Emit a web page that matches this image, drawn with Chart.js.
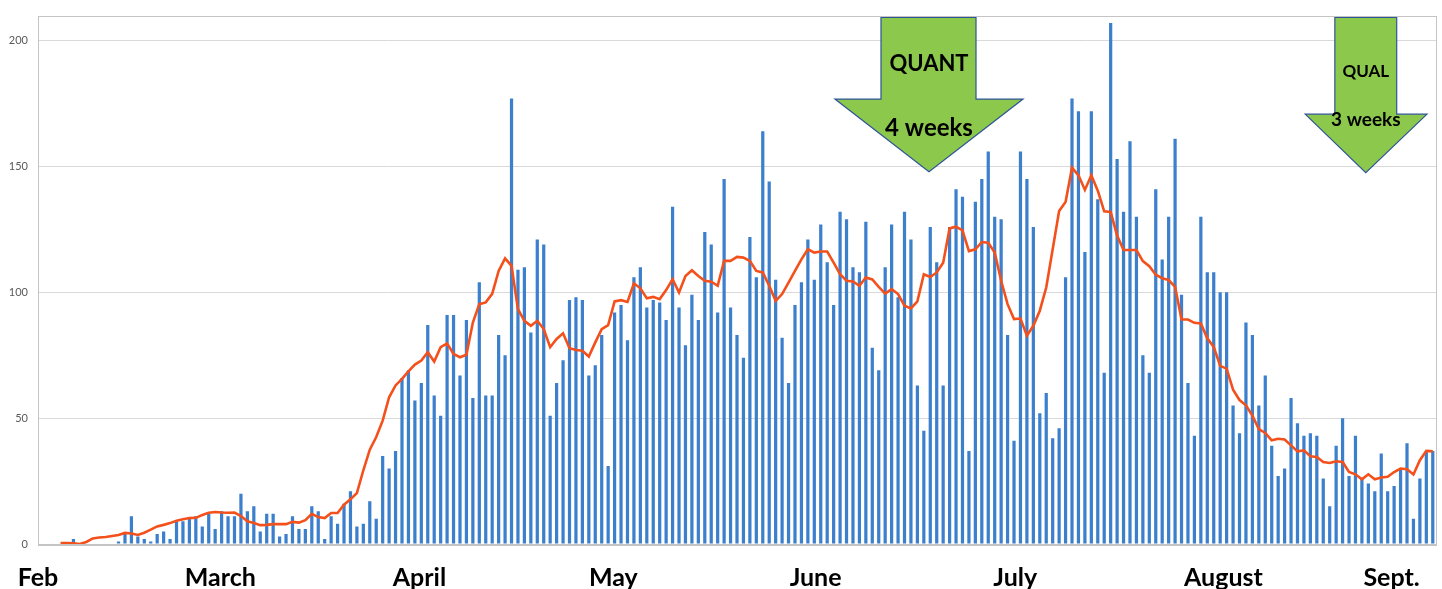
<!DOCTYPE html>
<html>
<head>
<meta charset="utf-8">
<script src="https://cdn.jsdelivr.net/npm/chart.js@4.4.1/dist/chart.umd.min.js"></script>
<style>
  html, body { margin: 0; padding: 0; background: #fff; }
  #wrap { width: 1442px; height: 589px; }
</style>
</head>
<body>
<div id="wrap"><canvas id="chart" width="1442" height="589"></canvas></div>
<script>
// daily counts, one per day from Feb 1 (index 0) to Sept 4 (index 216)
var dailyCounts = [
  null, null, null, null, null, 2, 0, 0, 0, 0,
  0, 0, 1, 4, 11, 3, 2, 1, 4, 5,
  2, 9, 9, 10, 11, 7, 12, 6, 13, 11,
  11, 20, 13, 15, 5, 12, 12, 3, 4, 11,
  6, 6, 15, 13, 2, 11, 8, 16, 21, 7,
  8, 17, 10, 35, 30, 37, 66, 69, 57, 64,
  87, 59, 51, 91, 91, 67, 89, 58, 104, 59,
  59, 83, 75, 177, 109, 110, 84, 121, 119, 51,
  64, 73, 97, 98, 97, 67, 71, 83, 31, 92,
  95, 81, 106, 110, 94, 97, 96, 89, 134, 94,
  79, 99, 89, 124, 119, 92, 145, 94, 83, 74,
  122, 106, 164, 144, 105, 82, 64, 95, 104, 121,
  105, 127, 112, 95, 132, 129, 110, 108, 128, 78,
  69, 110, 127, 98, 132, 121, 63, 45, 126, 112,
  63, 126, 141, 138, 37, 136, 145, 156, 130, 129,
  83, 41, 156, 145, 126, 52, 60, 42, 46, 106,
  177, 172, 116, 172, 137, 68, 207, 153, 132, 160,
  130, 75, 68, 141, 113, 130, 161, 99, 64, 43,
  130, 108, 108, 100, 100, 55, 44, 88, 83, 55,
  67, 39, 27, 30, 58, 48, 43, 44, 43, 26,
  15, 39, 50, 27, 43, 26, 24, 21, 36, 21,
  23, 30, 40, 10, 26, 37, 37
];

// the smoothed (moving average) line
var movingAvg = [
  null, null, null, 0.4, 0.4, 0.3, 0, 0.8, 2.2, 2.6,
  2.8, 3.2, 3.6, 4.4, 4.2, 3.6, 4.5, 5.7, 7, 7.6,
  8.3, 9.2, 9.8, 10.3, 10.4, 11.5, 12.4, 12.7, 12.5, 12.4,
  12.5, 11.1, 9, 8.3, 7.5, 7.6, 7.9, 7.9, 7.9, 8.8,
  8.5, 9.5, 12, 10.7, 10.3, 12.3, 12.3, 15.6, 17.8, 20.2,
  29.3, 37.5, 42.5, 49, 58.3, 63, 65.6, 68.6, 71.3, 72.9,
  76.2, 72.5, 78.2, 79.7, 75.5, 74.2, 75.2, 88, 95.3, 96,
  99.4, 108.5, 113.5, 110.5, 93.3, 88.7, 86.7, 88.7, 85.4, 78.2,
  81.5, 83.7, 77.8, 77.1, 76.8, 74.5, 80.1, 85.4, 87, 96.4,
  96.9, 96.2, 103.6, 101.6, 97.6, 98.2, 97.3, 100.9, 105.2, 99.9,
  106.5, 108.8, 106.5, 104.6, 104.2, 102.6, 112.5, 112.5, 114.1, 113.8,
  112.5, 108.5, 107.9, 102.6, 96.6, 99.3, 103.9, 108.5, 113.1, 117.1,
  115.8, 116.2, 116.2, 111.8, 107.2, 104.6, 104.3, 102.6, 105.9, 105.1,
  102.2, 99.5, 101.3, 99.3, 94.7, 93.6, 96.4, 107.2, 106.1, 107.9,
  111.8, 125.4, 126.1, 124.6, 116.4, 117.1, 120, 119.7, 115.8, 104.6,
  95.3, 89.4, 89.6, 82.8, 86.7, 92.7, 101.9, 117.1, 132.3, 135.9,
  149.5, 146.5, 140.7, 146.5, 140.4, 132.2, 131.9, 122.6, 116.8, 116.8,
  116.8, 112.4, 110.4, 107, 105.6, 104.9, 102.2, 89.2, 89.2, 87.9,
  87.6, 81.7, 78.3, 70.8, 69.7, 61.3, 57.2, 55.1, 51, 45.7,
  44.1, 41.2, 41.8, 41.5, 39.2, 36.8, 37.2, 34.9, 34.6, 32.6,
  32.2, 32.9, 32.6, 28.6, 27.7, 25.7, 27.7, 25.7, 26.4, 26.7,
  28.6, 30, 29.7, 27.6, 33.3, 37, 36.8
];

var monthNames = ["Feb", "March", "April", "May", "June", "July", "August", "Sept."];
var monthLabelDay = [-0.5, 27.8, 58.7, 88.8, 120.2, 151.2, 183.5, 209.6];
var yTickValues = [0, 50, 100, 150, 200];

// call-out arrows; x in day index, y in chart units
var calloutArrows = [
  { shaft: [130.35, 145.1], head: [123.2, 152.4], tip: 137.8, top: 209.2, neck: 176.8, point: 147.9,
    text: ["QUANT", "4 weeks"], textY: [190.6, 165.3], sizes: [22, 24] },
  { shaft: [200.8, 210.4], head: [196.2, 215.1], tip: 205.6, top: 209.2, neck: 170.8, point: 147.5,
    text: ["QUAL", "3 weeks"], textY: [187.8, 168.5], sizes: [17, 19] }
];

var dayLabels = [];
var start = new Date(2020, 1, 1);
for (var i = 0; i < dailyCounts.length; i++) {
  var d = new Date(start.getTime());
  d.setDate(start.getDate() + i);
  dayLabels.push((d.getMonth() + 1) + "/" + d.getDate());
}

var boxPlugin = {
  id: "plotBox",
  beforeDatasetsDraw: function (chart) {
    var a = chart.chartArea, ctx = chart.ctx;
    ctx.save();
    ctx.strokeStyle = "#c4c4c4";
    ctx.lineWidth = 1;
    ctx.strokeRect(Math.round(a.left) + 0.5, Math.round(a.top) + 0.5,
      Math.round(a.right - a.left), Math.round(a.bottom - a.top));
    ctx.restore();
  }
};

// month names under the axis, centred on a day position
var monthPlugin = {
  id: "months",
  afterDraw: function (chart) {
    var xs = chart.scales.x, ctx = chart.ctx;
    ctx.save();
    ctx.fillStyle = "#000";
    ctx.font = "bold 25px Lato, 'Open Sans', sans-serif";
    ctx.textAlign = "center";
    ctx.textBaseline = "middle";
    monthNames.forEach(function (m, j) {
      ctx.fillText(m, xs.getPixelForValue(monthLabelDay[j]), chart.chartArea.bottom + 34);
    });
    ctx.restore();
  }
};

var arrowPlugin = {
  id: "callouts",
  afterDatasetsDraw: function (chart) {
    var xs = chart.scales.x, ys = chart.scales.y, ctx = chart.ctx;
    calloutArrows.forEach(function (a) {
      var px = function (v) { return xs.getPixelForValue(v); };
      var py = function (v) { return ys.getPixelForValue(v); };
      ctx.save();
      ctx.beginPath();
      ctx.moveTo(px(a.shaft[0]), py(a.top));
      ctx.lineTo(px(a.shaft[1]), py(a.top));
      ctx.lineTo(px(a.shaft[1]), py(a.neck));
      ctx.lineTo(px(a.head[1]), py(a.neck));
      ctx.lineTo(px(a.tip), py(a.point));
      ctx.lineTo(px(a.head[0]), py(a.neck));
      ctx.lineTo(px(a.shaft[0]), py(a.neck));
      ctx.closePath();
      ctx.fillStyle = "#8cc84b";
      ctx.fill();
      ctx.strokeStyle = "#2f5597";
      ctx.lineWidth = 1.2;
      ctx.stroke();
      ctx.fillStyle = "#000";
      ctx.textAlign = "center";
      ctx.textBaseline = "middle";
      a.text.forEach(function (t, j) {
        ctx.font = "bold " + a.sizes[j] + "px Lato, 'Open Sans', sans-serif";
        ctx.fillText(t, px(a.tip), py(a.textY[j]));
      });
      ctx.restore();
    });
  }
};

new Chart(document.getElementById("chart"), {
  type: "bar",
  data: {
    labels: dayLabels,
    datasets: [
      {
        type: "line",
        label: "Moving average",
        data: movingAvg,
        borderColor: "#f4501c",
        borderWidth: 2.6,
        pointRadius: 0,
        tension: 0,
        spanGaps: false,
        order: 0
      },
      {
        label: "Daily",
        data: dailyCounts,
        backgroundColor: "#3b7fcd",
        barPercentage: 0.5,
        categoryPercentage: 1,
        order: 1
      }
    ]
  },
  options: {
    responsive: false,
    animation: false,
    layout: { padding: { top: 13, right: 6, left: 0, bottom: 0 } },
    plugins: {
      legend: { display: false },
      tooltip: { enabled: false }
    },
    scales: {
      x: {
        grid: { display: false, drawTicks: false },
        border: { display: true, color: "#c4c4c4" },
        afterFit: function (scale) { scale.height = 45; },
        ticks: { display: false }
      },
      y: {
        min: 0,
        max: 210,
        afterFit: function (scale) { scale.width = 38; },
        afterBuildTicks: function (scale) {
          scale.ticks = yTickValues.map(function (v) { return { value: v }; });
        },
        grid: { color: "#d9d9d9", lineWidth: 1, drawTicks: false },
        border: { display: false },
        ticks: {
          padding: 10,
          color: "#595959",
          font: { family: "Lato, 'Open Sans', sans-serif", size: 11, lineHeight: 1 }
        }
      }
    }
  },
  plugins: [boxPlugin, arrowPlugin, monthPlugin]
});
</script>
</body>
</html>
